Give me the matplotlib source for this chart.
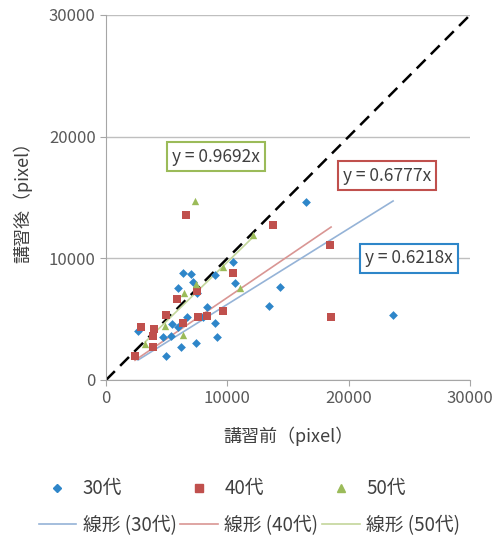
import numpy as np
import matplotlib
matplotlib.use('Agg')
import matplotlib.pyplot as plt
from matplotlib.lines import Line2D

plt.rcParams['font.family'] = ['Noto Sans CJK JP', 'DejaVu Sans']

# ----- data -----
x30 = [6350, 7010, 10470, 8990, 10630, 7170, 5940, 7500, 14340, 13440, 8330, 6680, 8000,
       8990, 5440, 5940, 5360, 4700, 9150, 2640, 6180, 7420, 4950, 16490, 23660]
y30 = [8770, 8690, 9670, 8610, 7950, 8030, 7540, 7130, 7620, 6070, 5980, 5160, 5160,
       4670, 4590, 4340, 3610, 3520, 3520, 4020, 2700, 3030, 1970, 14670, 5330]

x40 = [10470, 7500, 5850, 4950, 9650, 7580, 8330, 6350, 2890, 3960, 3870, 3870, 2390,
       6600, 13770, 18470, 18550]
y40 = [8770, 7300, 6640, 5330, 5660, 5160, 5250, 4670, 4340, 4180, 3610, 2700, 1970,
       13600, 12700, 11070, 5160]

x50 = [12120, 9650, 11050, 7420, 6430, 4860, 6350, 3220, 7340]
y50 = [11890, 9260, 7540, 7870, 7130, 4430, 3690, 2950, 14750]

slopes = [0.6218, 0.6777, 0.9692]
labels = ['30代', '40代', '50代']
trend_labels = ['線形 (30代)', '線形 (40代)', '線形 (50代)']

# ----- styles -----
mk_colors = ['#2E86C9', '#C0504D', '#9BBB59']
tr_colors = ['#95B3D7', '#D99694', '#C3D69B']
markers = ['D', 's', '^']
sizes = [20, 28, 28]
grey = '#595959'

fig = plt.figure(figsize=(4.94, 5.41), dpi=100)
ax = fig.add_axes([0.2146, 0.2976, 0.7368, 0.6747])

ax.plot([0, 30000], [0, 30000], color='black', ls=(0, (5, 3)), lw=1.8, zorder=2)

data = [(x30, y30), (x40, y40), (x50, y50)]
for i, (xs, ys) in enumerate(data):
    ax.scatter(xs, ys, marker=markers[i], s=sizes[i], color=mk_colors[i],
               linewidths=0, zorder=3)
    xr = np.array([min(xs), max(xs)])
    ax.plot(xr, slopes[i] * xr, color=tr_colors[i], lw=1.2, zorder=2.5)

ax.set_xlim(0, 30000)
ax.set_ylim(0, 30000)
ax.set_xticks([0, 10000, 20000, 30000])
ax.set_yticks([0, 10000, 20000, 30000])
ax.grid(axis='y', color='#BFBFBF', lw=1)
ax.set_axisbelow(True)
for s in ['top', 'right']:
    ax.spines[s].set_visible(False)
for s in ['left', 'bottom']:
    ax.spines[s].set_color('#A6A6A6')
ax.tick_params(colors='#A6A6A6', labelcolor=grey, labelsize=12, length=4)

ax.set_xlabel('講習前（pixel）', fontsize=13, color='#404040', labelpad=14)
ax.set_ylabel('講習後（pixel）', fontsize=13, color='#404040', labelpad=12)

# equation boxes
boxes = [(24980, 10000, mk_colors[0]), (23170, 16800, mk_colors[1]), (9070, 18360, '#9BBB59')]
for i, (bx, by, ec) in enumerate(boxes):
    ax.text(bx, by, f'y = {slopes[i]:.4f}x', fontsize=12.5, color='#404040',
            ha='center', va='center', zorder=5,
            bbox=dict(boxstyle='square,pad=0.3', fc='white', ec=ec, lw=1.5))

handles = []
for i in range(3):
    handles.append(Line2D([], [], ls='none', marker=markers[i], color=mk_colors[i],
                          markersize=4.5 if i == 0 else 5.5, label=labels[i]))
    handles.append(Line2D([], [], color=tr_colors[i], lw=1.2, label=trend_labels[i]))

fig.legend(handles=handles, ncol=3, loc='lower center', bbox_to_anchor=(0.505, -0.022),
           frameon=False, fontsize=13.5, handlelength=2.0, columnspacing=0.2,
           handletextpad=0.35, labelspacing=0.85, labelcolor='#404040')

fig.savefig('out.png', dpi=100)
